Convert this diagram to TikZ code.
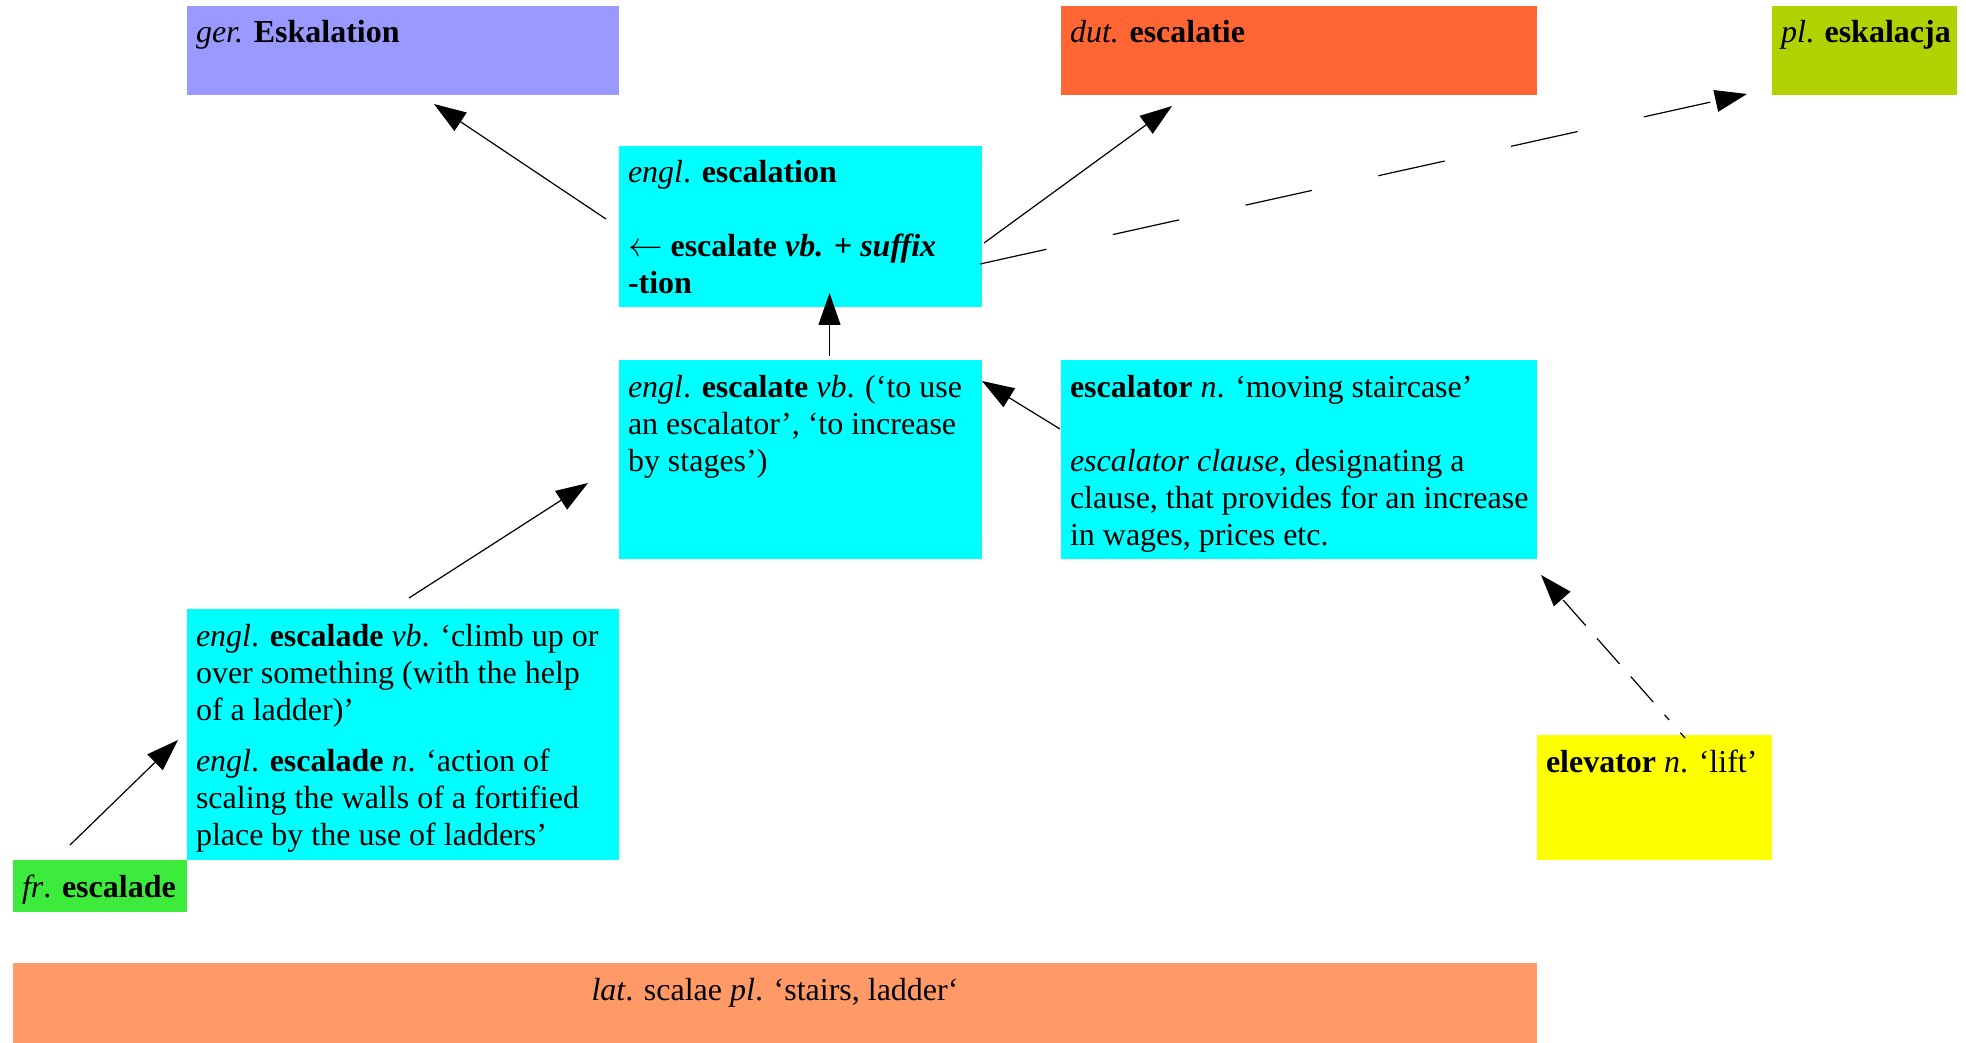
\documentclass[tikz,border=0pt]{standalone}
\usepackage{fontspec}
\setmainfont{Liberation Serif}
\usetikzlibrary{arrows.meta,calc}
\definecolor{cGer}{HTML}{9999FF}
\definecolor{cDut}{HTML}{FF6633}
\definecolor{cPl}{HTML}{B2D100}
\definecolor{cCyan}{HTML}{00FFFF}
\definecolor{cFr}{HTML}{3DEB3D}
\definecolor{cLat}{HTML}{FF9966}
\definecolor{cElev}{HTML}{FFFF00}
\newcommand\mytxt[1]{\parbox[t]{400pt}{\raggedright #1}}
\begin{document}
\begin{tikzpicture}[x=0.5pt,y=-0.5pt,
  box/.style={rectangle,draw=none,outer sep=0pt,inner sep=0pt,anchor=north west},
  txt/.style={inner sep=0pt,outer sep=0pt,anchor=base west,font=\fontsize{16pt}{18.5pt}\selectfont},
  arr/.style={line width=0.6pt,-{Triangle[length=16pt,width=11pt]}},
  longdash/.style={dash pattern=on 34pt off 34pt},
  dotdash/.style={dash pattern=on 3.5pt off 8.5pt on 3.5pt off 8.5pt on 17pt off 8.5pt on 17pt off 8.5pt on 17pt off 8.5pt}]
\useasboundingbox (0,0) rectangle (1966,1043);
% boxes
\node[box,fill=cGer,minimum width=216pt,minimum height=44.5pt] (ger) at (187,6) {};
\node[box,fill=cDut,minimum width=238pt,minimum height=44.5pt] (dut) at (1061,6) {};
\node[box,fill=cPl,minimum width=92.5pt,minimum height=44.5pt] (pl) at (1772,6) {};
\node[box,fill=cCyan,minimum width=181.5pt,minimum height=80.5pt] (escn) at (619,146) {};
\node[box,fill=cCyan,minimum width=181.5pt,minimum height=99.5pt] (escv) at (619,360) {};
\node[box,fill=cCyan,minimum width=238pt,minimum height=99.5pt] (esctor) at (1061,360) {};
\node[box,fill=cCyan,minimum width=216pt,minimum height=125.5pt] (escade) at (187,609) {};
\node[box,fill=cFr,minimum width=87pt,minimum height=26pt] (fr) at (13,860) {};
\node[box,fill=cLat,minimum width=762pt,minimum height=40pt] (lat) at (13,963) {};
\node[box,fill=cElev,minimum width=117.5pt,minimum height=62.5pt] (elev) at (1537,735) {};
% texts
\node[txt] (tger) at ($(ger.north west)+(9,37)$) {\mytxt{\textit{ger.} \textbf{Eskalation}}};
\node[txt] (tdut) at ($(dut.north west)+(9,37)$) {\mytxt{\textit{dut.} \textbf{escalatie}}};
\node[txt] (tpl) at ($(pl.north west)+(9,37)$) {\mytxt{\textit{pl}. \textbf{eskalacja}}};
\node[txt] (tescn) at ($(escn.north west)+(9,37)$) {\mytxt{\textit{engl}. \textbf{escalation}\\[18.5pt]
  \textbf{$\leftarrow$ escalate \textit{vb.} + \textit{suffix}}\\ \textbf{-tion}}};
\node[txt] (tescv) at ($(escv.north west)+(9,37)$) {\mytxt{\textit{engl}. \textbf{escalate} \textit{vb}. (‘to use\\
  an escalator’, ‘to increase\\ by stages’)}};
\node[txt] (tesctor) at ($(esctor.north west)+(9,37)$) {\mytxt{\textbf{escalator} \textit{n}. ‘moving staircase’\\[18.5pt]
  \textit{escalator clause}, designating a\\ clause, that provides for an increase\\ in wages, prices etc.}};
\node[txt] (tescade) at ($(escade.north west)+(9,37)$) {\mytxt{\textit{engl}. \textbf{escalade} \textit{vb}. ‘climb up or\\
  over something (with the help\\ of a ladder)’\\[7pt]
  \textit{engl}. \textbf{escalade} \textit{n}. ‘action of\\ scaling the walls of a fortified\\ place by the use of ladders’}};
\node[txt] (tfr) at ($(fr.north west)+(9,37)$) {\mytxt{\textit{fr}. \textbf{escalade}}};
\node[txt] (telev) at ($(elev.north west)+(9,37)$) {\mytxt{\textbf{elevator} \textit{n}. ‘lift’}};
\node[txt,anchor=base] (tlat) at ($(lat.north)+(0,37)$) {\textit{lat}. scalae \textit{pl}. ‘stairs, ladder‘};
% connectors
\draw[arr] ($(escn.north west)+(-13,73)$) -- ($(ger.south west)+(247,9)$);
\draw[arr] ($(escn.north east)+(2,97)$) -- ($(dut.south west)+(111,11)$);
\draw[arr,longdash] ($(escn.north east)+(-2,118)$) -- ($(pl.south west)+(-25,-1)$);
\draw[arr] ($(escv.north west)+(210.5,-4)$) -- ($(escn.south west)+(210.5,-14)$);
\draw[arr] ($(esctor.north west)+(-1,69)$) -- ($(escv.north east)+(0,21)$);
\draw[arr] ($(escade.north west)+(222,-11)$) -- ($(escv.north west)+(-31,123)$);
\draw[arr] ($(fr.north west)+(57,-15)$) -- ($(escade.north west)+(-9,131)$);
\draw[arr,dotdash] ($(elev.north west)+(148,3)$) -- ($(esctor.south east)+(4,16)$);
\end{tikzpicture}
\end{document}
